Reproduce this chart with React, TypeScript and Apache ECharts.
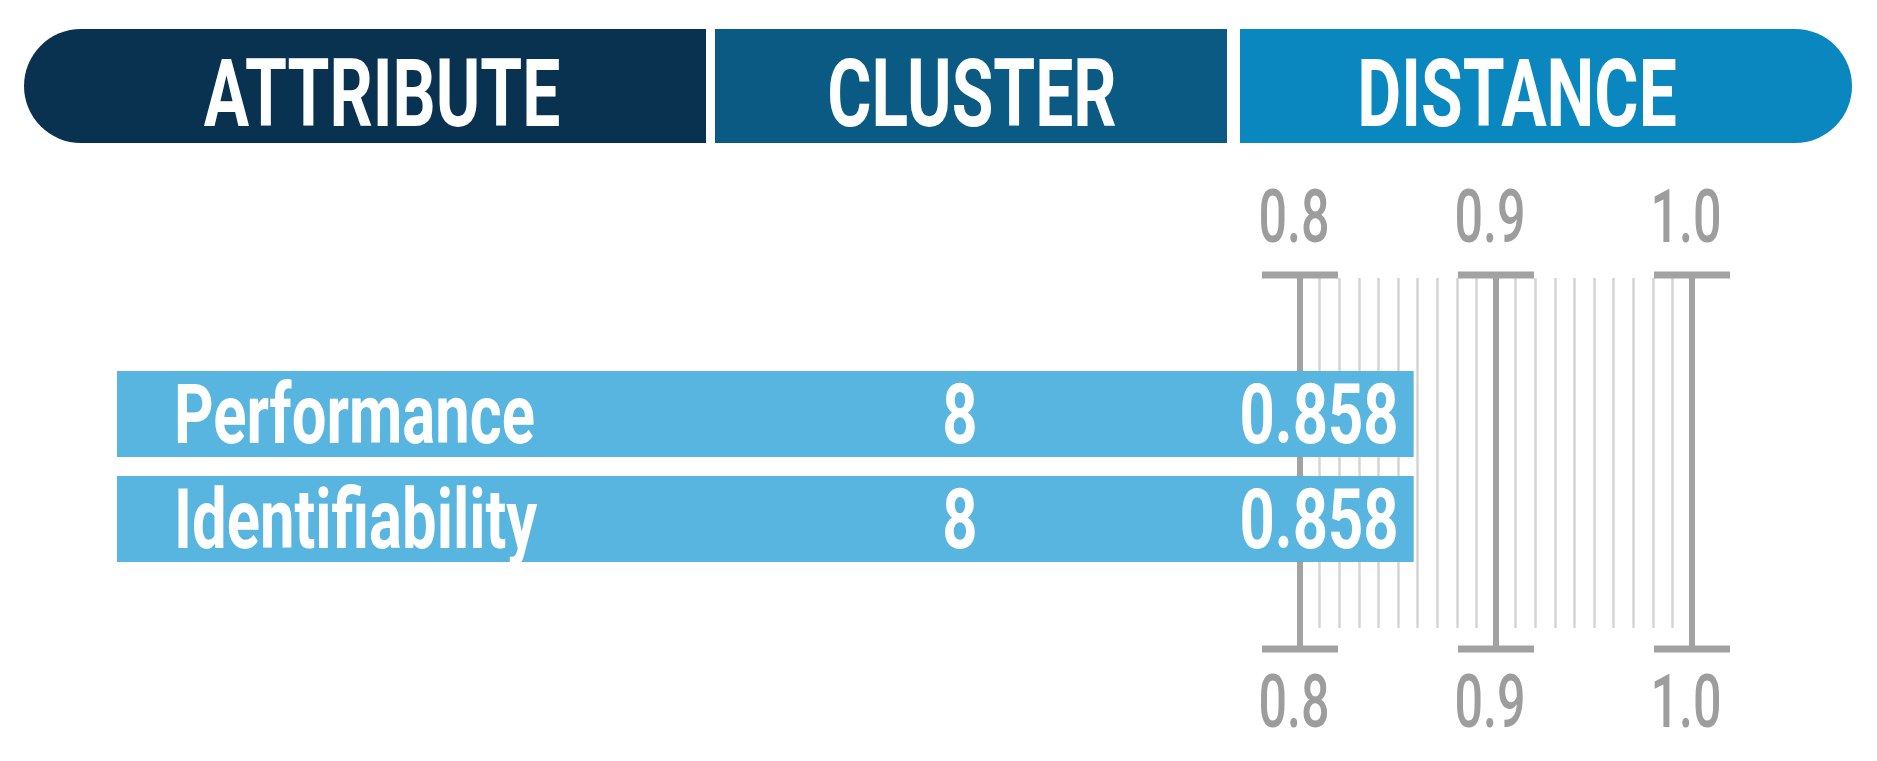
import React, { useEffect, useRef } from "react";
import * as echarts from "echarts";

// ---- data ----
const columns = ["ATTRIBUTE", "CLUSTER", "DISTANCE"];
const attributes = ["Performance", "Identifiability"];
const clusters = [8, 8];
const distances = [0.858, 0.858];
const distanceTicks = [0.8, 0.9, 1.0];
const distanceTickLabels = ["0.8", "0.9", "1.0"];

// ---- layout ----
const W = 1877;
const H = 761;
const SCALE_LEFT = 1292;
const SCALE_RIGHT = 1684;
const SCALE_MIN = 0.8;
const SCALE_MAX = 1.0;
const PX_PER_UNIT = (SCALE_RIGHT - SCALE_LEFT) / (SCALE_MAX - SCALE_MIN);
const BAR_LEFT = 109;
const ROW_MIN = SCALE_MIN - (SCALE_LEFT - BAR_LEFT) / PX_PER_UNIT;
const CLUSTER_TEXT_X = 952;
const FONT = "Roboto, 'DejaVu Sans', sans-serif";

const HEADER_Y = 21;
const HEADER_H = 114;
const HEADER_R = 57;
const headerSegments = [
  { x: 16, w: 682, color: "#08324f", r: [HEADER_R, 0, 0, HEADER_R], textX: 374 },
  { x: 707, w: 512, color: "#0b5a84", r: 0, textX: 964 },
  { x: 1232, w: 612, color: "#0b87bf", r: [0, HEADER_R, HEADER_R, 0], textX: 1509 },
];

function textStyle(text: string, font: string, fill: string, align: string) {
  return {
    text,
    font,
    fill,
    align,
    verticalAlign: "middle",
    textAlign: align,
    textVerticalAlign: "middle",
  };
}

export default function App() {
  const ref = useRef<HTMLDivElement>(null);

  useEffect(() => {
    if (!ref.current) return;
    const chart = echarts.init(ref.current, null, { renderer: "svg" });

    const headerElements: any[] = [];
    headerSegments.forEach((seg, i) => {
      headerElements.push({
        type: "rect",
        shape: { x: seg.x, y: HEADER_Y, width: seg.w, height: HEADER_H, r: seg.r },
        style: { fill: seg.color },
        silent: true,
      });
      headerElements.push({
        type: "text",
        x: seg.textX,
        y: 86,
        scaleX: 0.72,
        style: textStyle(columns[i], `bold 94px ${FONT}`, "#ffffff", "center"),
        silent: true,
      });
    });

    const option: any = {
      animation: false,
      backgroundColor: "#ffffff",
      tooltip: { show: false },
      graphic: { elements: headerElements },
      grid: [
        { left: SCALE_LEFT, width: SCALE_RIGHT - SCALE_LEFT, top: 267, height: 374 },
        { left: SCALE_LEFT, width: SCALE_RIGHT - SCALE_LEFT, top: 270, height: 350 },
        { left: BAR_LEFT, width: SCALE_RIGHT - BAR_LEFT, top: 353.5, height: 210 },
      ],
      xAxis: [
        {
          gridIndex: 0,
          type: "value",
          min: SCALE_MIN,
          max: SCALE_MAX,
          interval: 0.1,
          axisLine: { show: false },
          axisTick: { show: false },
          axisLabel: { show: false },
          splitLine: { show: true, lineStyle: { color: "#a2a2a2", width: 6 } },
        },
        {
          gridIndex: 1,
          type: "value",
          min: SCALE_MIN,
          max: SCALE_MAX,
          interval: 0.1,
          axisLine: { show: false },
          axisTick: { show: false },
          axisLabel: { show: false },
          splitLine: { show: false },
          minorTick: { show: false, splitNumber: 10 },
          minorSplitLine: { show: true, lineStyle: { color: "#d4d4d4", width: 2.5 } },
        },
        {
          gridIndex: 2,
          type: "value",
          min: ROW_MIN,
          max: SCALE_MAX,
          show: false,
          splitLine: { show: false },
        },
      ],
      yAxis: [
        { gridIndex: 0, type: "value", min: 0, max: 1, show: false, splitLine: { show: false } },
        { gridIndex: 1, type: "value", min: 0, max: 1, show: false, splitLine: { show: false } },
        { gridIndex: 2, type: "category", data: attributes, inverse: true, show: false },
      ],
      series: [
        {
          type: "custom",
          name: "scale",
          xAxisIndex: 0,
          yAxisIndex: 0,
          z: 2,
          silent: true,
          data: distanceTicks.map((v) => [v, 0]),
          renderItem: (params: any, api: any) => {
            const v = api.value(0);
            const x = api.coord([v, 0])[0];
            const cs = params.coordSys;
            const top = cs.y;
            const bottom = cs.y + cs.height;
            const label = distanceTickLabels[params.dataIndex];
            const capStyle = { fill: "#a2a2a2" };
            const font = `500 74px ${FONT}`;
            return {
              type: "group",
              children: [
                { type: "rect", shape: { x: x - 38, y: top - 3.5, width: 76, height: 7 }, style: capStyle },
                { type: "rect", shape: { x: x - 38, y: bottom - 3.5, width: 76, height: 7 }, style: capStyle },
                { type: "text", x: x - 6, y: top - 58.5, scaleX: 0.68, style: textStyle(label, font, "#9d9d9d", "center") },
                { type: "text", x: x - 6, y: bottom + 52.5, scaleX: 0.68, style: textStyle(label, font, "#9d9d9d", "center") },
              ],
            };
          },
        },
        {
          type: "bar",
          name: "distance",
          xAxisIndex: 2,
          yAxisIndex: 2,
          data: distances,
          barWidth: 86,
          clip: true,
          z: 3,
          silent: true,
          itemStyle: { color: "#57b5e0" },
        },
        {
          type: "custom",
          name: "rowText",
          xAxisIndex: 2,
          yAxisIndex: 2,
          z: 4,
          silent: true,
          data: attributes.map((_, i) => [distances[i], i]),
          renderItem: (params: any, api: any) => {
            const i = params.dataIndex;
            const yi = api.value(1);
            const end = api.coord([api.value(0), yi]);
            const startX = api.coord([ROW_MIN, yi])[0];
            const yc = end[1];
            const font = `bold 84px ${FONT}`;
            const sx = 0.733;
            return {
              type: "group",
              children: [
                { type: "text", x: startX + 57, y: yc, scaleX: sx, style: textStyle(attributes[i], font, "#ffffff", "left") },
                { type: "text", x: CLUSTER_TEXT_X, y: yc, scaleX: sx, style: textStyle(String(clusters[i]), font, "#ffffff", "center") },
                { type: "text", x: end[0] - 15, y: yc, scaleX: sx, style: textStyle(distances[i].toFixed(3), font, "#ffffff", "right") },
              ],
            };
          },
        },
      ],
    };

    chart.setOption(option);
    return () => chart.dispose();
  }, []);

  return (
    <div
      ref={ref}
      style={{ position: "fixed", left: 0, top: 0, width: W, height: H, background: "#ffffff" }}
    />
  );
}
